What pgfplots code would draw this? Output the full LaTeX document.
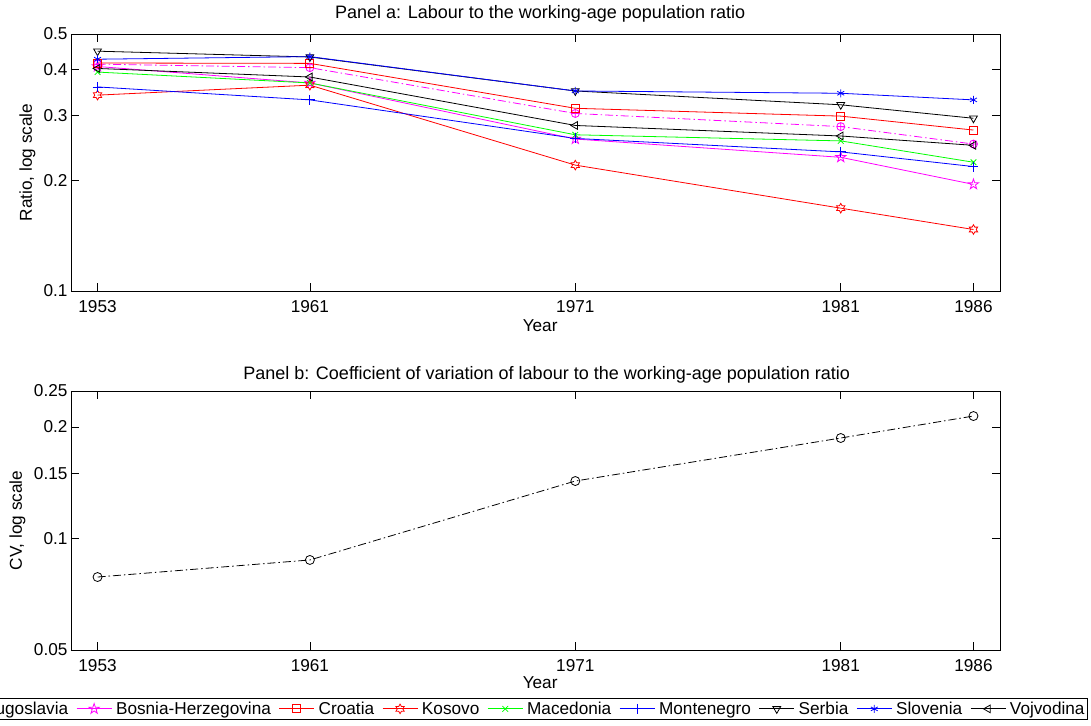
\documentclass[border=0pt]{standalone}
\usepackage{fontspec}
\setmainfont{Liberation Sans}
\usepackage{pgfplots}
\pgfplotsset{compat=1.18}

% outlined five-pointed star
\pgfdeclareplotmark{pentagram}{%
  \pgfpathmoveto{\pgfqpointpolar{90}{1.35\pgfplotmarksize}}%
  \pgfpathlineto{\pgfqpointpolar{126}{0.52\pgfplotmarksize}}%
  \pgfpathlineto{\pgfqpointpolar{162}{1.35\pgfplotmarksize}}%
  \pgfpathlineto{\pgfqpointpolar{198}{0.52\pgfplotmarksize}}%
  \pgfpathlineto{\pgfqpointpolar{234}{1.35\pgfplotmarksize}}%
  \pgfpathlineto{\pgfqpointpolar{270}{0.52\pgfplotmarksize}}%
  \pgfpathlineto{\pgfqpointpolar{306}{1.35\pgfplotmarksize}}%
  \pgfpathlineto{\pgfqpointpolar{342}{0.52\pgfplotmarksize}}%
  \pgfpathlineto{\pgfqpointpolar{18}{1.35\pgfplotmarksize}}%
  \pgfpathlineto{\pgfqpointpolar{54}{0.52\pgfplotmarksize}}%
  \pgfpathclose\pgfusepathqstroke}
% outlined six-pointed star
\pgfdeclareplotmark{hexagram}{%
  \pgfpathmoveto{\pgfqpointpolar{90}{1.2\pgfplotmarksize}}%
  \pgfpathlineto{\pgfqpointpolar{120}{0.69\pgfplotmarksize}}%
  \pgfpathlineto{\pgfqpointpolar{150}{1.2\pgfplotmarksize}}%
  \pgfpathlineto{\pgfqpointpolar{180}{0.69\pgfplotmarksize}}%
  \pgfpathlineto{\pgfqpointpolar{210}{1.2\pgfplotmarksize}}%
  \pgfpathlineto{\pgfqpointpolar{240}{0.69\pgfplotmarksize}}%
  \pgfpathlineto{\pgfqpointpolar{270}{1.2\pgfplotmarksize}}%
  \pgfpathlineto{\pgfqpointpolar{300}{0.69\pgfplotmarksize}}%
  \pgfpathlineto{\pgfqpointpolar{330}{1.2\pgfplotmarksize}}%
  \pgfpathlineto{\pgfqpointpolar{0}{0.69\pgfplotmarksize}}%
  \pgfpathlineto{\pgfqpointpolar{30}{1.2\pgfplotmarksize}}%
  \pgfpathlineto{\pgfqpointpolar{60}{0.69\pgfplotmarksize}}%
  \pgfpathclose\pgfusepathqstroke}

\definecolor{mmag}{rgb}{1,0,1}
\definecolor{mred}{rgb}{1,0,0}
\definecolor{mgreen}{rgb}{0,1,0}
\definecolor{mblue}{rgb}{0,0,1}

\newcommand{\fs}{\fontsize{17.2}{20}\selectfont}
\newcommand{\ft}{\fontsize{18}{21}\selectfont}

\pgfplotsset{
  /pgfplots/yugopanel/.style={
    scale only axis, width=929pt, anchor=south west,
    xmin=1952, xmax=1987,
    xtick={1953,1961,1971,1981,1986},
    xticklabels={1953,1961,1971,1981,1986},
    minor xtick={}, minor ytick={},
    tick align=inside, major tick length=8pt,
    axis line style={line width=0.7pt},
    every tick/.style={black, line width=0.6pt},
    tick label style={font=\fs},
    xticklabel style={yshift=-6pt},
    label style={font=\fs},
    title style={font=\ft},
    xlabel={Year},
    every axis plot/.append style={line width=0.8pt, mark size=4pt},
  },
  /tikz/mdashdot/.style={dash pattern=on 8pt off 3pt on 1.5pt off 3pt},
}

\begin{document}
\begin{tikzpicture}
\begin{semilogyaxis}[yugopanel, at={(0pt,0pt)}, height=257pt,
  ymin=0.1, ymax=0.5,
  ytick={0.1,0.2,0.3,0.4,0.5},
  yticklabels={0.1,0.2,0.3,0.4,0.5},
  title={Panel a: Labour to the working-age population ratio},
  title style={at={(axis description cs:0.505,1.0545)}, anchor=center},
  ylabel={Ratio, log scale},
  ylabel style={at={(axis description cs:-0.0468,0.5)}, anchor=center},
  xlabel style={at={(axis description cs:0.505,-0.1362)}, anchor=center},
  legend columns=9,
  legend image code/.code={%
    \draw[mark repeat=2,mark phase=2,#1] plot coordinates {(0pt,0pt) (17.5pt,0pt) (35pt,0pt)};},
  legend style={at={(axis description cs:1.0947,-1.5836)}, anchor=north east,
    font=\fs, draw=black, line width=0.8pt, inner xsep=3pt, inner ysep=2pt,
    nodes={inner xsep=0pt, inner ysep=1.5pt},
    /tikz/every odd column/.append style={column sep=4pt},
    /tikz/every even column/.append style={column sep=8pt},
    cells={anchor=west}},
]
\addplot[mmag, mdashdot, mark=oplus, mark options={solid}] coordinates
  {(1953,0.414) (1961,0.405) (1971,0.304) (1981,0.280) (1986,0.251)};
\addlegendentry{Yugoslavia}
\addplot[mmag, mark=pentagram] coordinates
  {(1953,0.408) (1961,0.368) (1971,0.259) (1981,0.231) (1986,0.195)};
\addlegendentry{Bosnia-Herzegovina}
\addplot[mred, mark=square] coordinates
  {(1953,0.417) (1961,0.416) (1971,0.314) (1981,0.299) (1986,0.274)};
\addlegendentry{Croatia}
\addplot[mred, mark=hexagram] coordinates
  {(1953,0.341) (1961,0.363) (1971,0.220) (1981,0.168) (1986,0.147)};
\addlegendentry{Kosovo}
\addplot[mgreen, mark=x] coordinates
  {(1953,0.394) (1961,0.368) (1971,0.266) (1981,0.256) (1986,0.224)};
\addlegendentry{Macedonia}
\addplot[mblue, mark=+, mark size=5pt] coordinates
  {(1953,0.359) (1961,0.331) (1971,0.260) (1981,0.239) (1986,0.218)};
\addlegendentry{Montenegro}
\addplot[black, mark=triangle, mark options={rotate=180}, mark size=4.5pt] coordinates
  {(1953,0.449) (1961,0.433) (1971,0.350) (1981,0.321) (1986,0.295)};
\addlegendentry{Serbia}
\addplot[mblue, mark=asterisk] coordinates
  {(1953,0.427) (1961,0.434) (1971,0.350) (1981,0.345) (1986,0.331)};
\addlegendentry{Slovenia}
\addplot[black, mark=triangle, mark options={rotate=90}, mark size=4.5pt] coordinates
  {(1953,0.403) (1961,0.382) (1971,0.282) (1981,0.264) (1986,0.249)};
\addlegendentry{Vojvodina}
\end{semilogyaxis}

\begin{semilogyaxis}[yugopanel, at={(0pt,-359pt)}, height=259pt,
  ymin=0.05, ymax=0.25,
  ytick={0.05,0.1,0.15,0.2,0.25},
  yticklabels={0.05,0.1,0.15,0.2,0.25},
  title={Panel b: Coefficient of variation of labour to the working-age population ratio},
  title style={at={(axis description cs:0.512,1.0383)}, anchor=center},
  ylabel={CV, log scale},
  ylabel style={at={(axis description cs:-0.0576,0.5)}, anchor=center},
  xlabel style={at={(axis description cs:0.505,-0.1274)}, anchor=center},
]
\addplot[black, mdashdot, mark=o, mark options={solid}, mark size=4.5pt] coordinates
  {(1953,0.0787) (1961,0.0875) (1971,0.1429) (1981,0.1867) (1986,0.214)};
\end{semilogyaxis}

\pgfresetboundingbox
\useasboundingbox (-71pt,-434pt) rectangle (1020pt,291pt);
\end{tikzpicture}
\end{document}
